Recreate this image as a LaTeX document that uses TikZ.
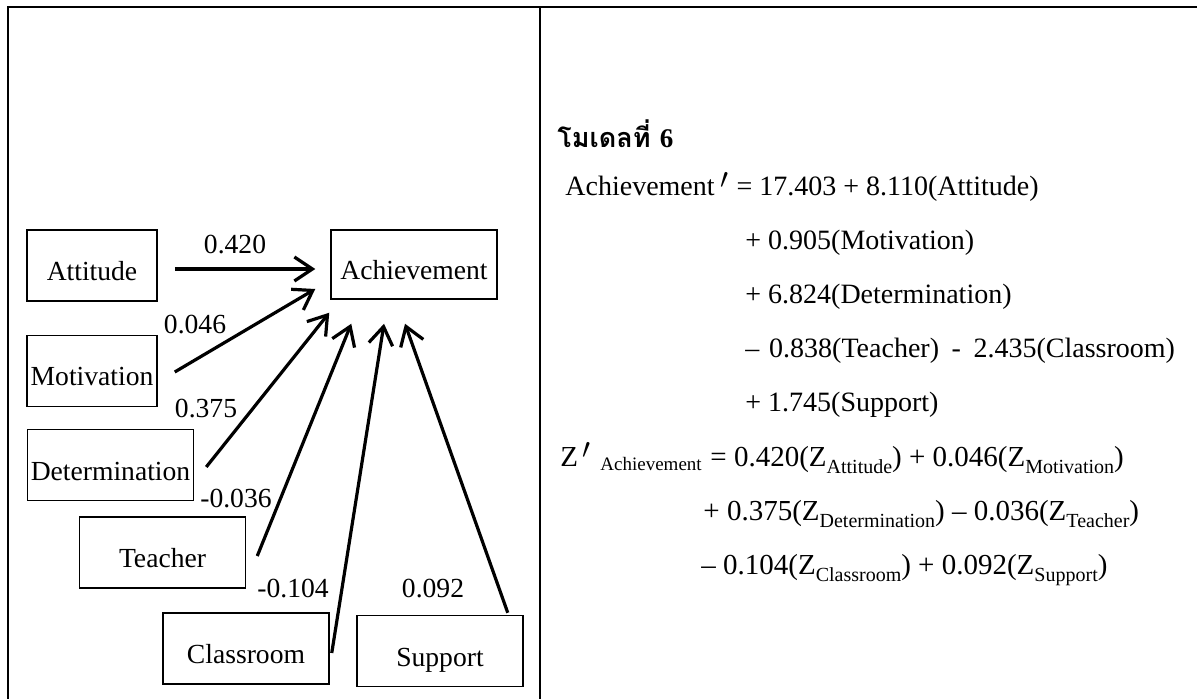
\documentclass[tikz,border=0pt]{standalone}
\usepackage{fontspec}
\setmainfont{Liberation Serif}
\newfontfamily\thaifont[Script=Thai]{Loma}
\usetikzlibrary{arrows.meta,calc}
\newcommand\zsub[1]{\raisebox{-0.25em}{\fontsize{10}{11}\selectfont #1}}
\newcommand\prm{\raisebox{0.25em}{$\prime$}}
\begin{document}
\begin{tikzpicture}[x=0.5pt,y=-0.5pt,
  box/.style={draw,line width=0.75pt,inner sep=0pt,font=\fontsize{13.8}{16}\selectfont,
    text height=15pt,text depth=0pt,minimum height=35.5pt},
  narrowbox/.style={box,minimum width=65pt},
  widebox/.style={box,minimum width=83pt},
  arr/.style={line width=1.6pt,-{Straight Barb[length=9pt,width=12pt,line width=1.6pt]}},
  lab/.style={font=\fontsize{13.8}{16}\selectfont,inner sep=0pt},
  eq/.style={font=\fontsize{14}{16}\selectfont,inner sep=0pt,anchor=base west},
  zeq/.style={eq,font=\fontsize{14.5}{16}\selectfont},
  frameline/.style={line width=1pt}]
\useasboundingbox (0,0) rectangle (1197,699);
% frame
\draw[frameline] (8,699) -- (8,7) -- (1197,7);
\draw[frameline] (540,7) -- (540,699);
% boxes
\node[narrowbox] (att) at (92,265.5) {Attitude};
\node[widebox,minimum height=34.5pt] (ach) at (414,264.5) {Achievement};
\node[narrowbox] (mot) at (92,371) {Motivation};
\node[widebox] (det) at (110.5,465) {Determination};
\node[widebox] (tea) at (162.5,552.5) {Teacher};
\node[widebox] (cla) at (246,648.5) {Classroom};
\node[widebox] (sup) at (440,651) {Support};
% arrows
\draw[arr] ($(att.east)+(17,3.5)$) -- ($(ach.west)+(-15,4.5)$);
\draw[arr] ($(mot.east)+(17,1)$) -- ($(ach.west)+(-15,24.5)$);
\draw[arr] ($(det.east)+(12,2)$) -- ($(ach.south west)+(-1,13)$);
\draw[arr] ($(tea.east)+(11,3.5)$) -- ($(ach.south west)+(21,24)$);
\draw[arr] ($(cla.east)+(2,4.5)$) -- ($(ach.south)+(-30,24)$);
\draw[arr] ($(sup.north east)+(-16,-2)$) -- ($(ach.south)+(-9,24)$);
% labels
\node[lab] (l1) at (235,245) {0.420};
\node[lab] (l2) at (195,325) {0.046};
\node[lab] (l3) at (206,409) {0.375};
\node[lab] (l4) at (236,499) {-0.036};
\node[lab] (l5) at (293,589) {-0.104};
\node[lab] (l6) at (433,589) {0.092};
% equations
\node[eq,font=\fontsize{13.5}{16}\selectfont] (hd) at (557,148) {\thaifont\bfseries โมเดลที่ {\rmfamily\bfseries 6}};
\node[eq] (e1) at (565,196) {Achievement\hspace{0.2em}\prm\hspace{0.05em} = 17.403 + 8.110(Attitude)};
\node[eq] (e2) at (745,250) {+ 0.905(Motivation)};
\node[eq] (e3) at (745,304) {+ 6.824(Determination)};
\node[eq] (e4) at (745,358) {\textendash\hspace{0.35em}0.838(Teacher)\hspace{0.45em}-\hspace{0.45em}2.435(Classroom)};
\node[eq] (e5) at (745,412) {+ 1.745(Support)};
\node[zeq] (z0) at (560,466) {Z\hspace{0.15em}\prm};
\node[eq,font=\fontsize{9.5}{10}\selectfont] (zs) at (600,470) {Achievement};
\node[zeq] (z1) at (710,466) {= 0.420(Z\zsub{Attitude}) + 0.046(Z\zsub{Motivation})};
\node[zeq] (z2) at (703,520) {+ 0.375(Z\zsub{Determination}) \textendash{} 0.036(Z\zsub{Teacher})};
\node[zeq] (z3) at (701,574) {\textendash{} 0.104(Z\zsub{Classroom}) + 0.092(Z\zsub{Support})};
\end{tikzpicture}
\end{document}
